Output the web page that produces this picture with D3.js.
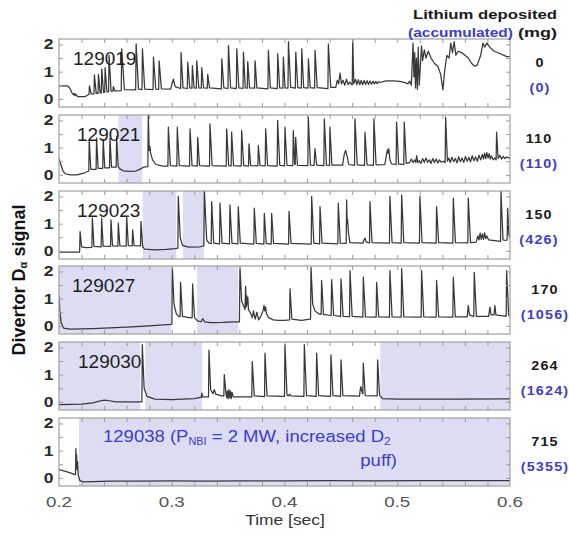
<!DOCTYPE html>
<html><head><meta charset="utf-8">
<script src="https://cdn.jsdelivr.net/npm/d3@7"></script>
<style>body{margin:0;background:#fff;} svg{display:block;font-family:"Liberation Sans",Arial,sans-serif;}</style>
</head><body><svg id="c" width="569" height="536"></svg>
<script>
// ---------------- data ----------------
const shots = ["129019","129021","129023","129027","129030"];
const lithium = ["0","110","150","170","264","715"];
const accumulated = ["(0)","(110)","(426)","(1056)","(1624)","(5355)"];
const xTickLabels = [0.2,0.3,0.4,0.5,0.6];
const xMinorTicks = [0.22,0.24,0.26,0.28,0.3,0.32,0.34,0.36,0.38,0.4,0.42,0.44,0.46,0.48,0.5,0.52,0.54,0.56,0.58];
const yTickLabels = [0,1,2];
const yMinorTicks = [0,0.5,1,1.5,2];

const trace129019 = [[0.2000,0.48],[0.2075,0.48],[0.2095,0.40],[0.2115,0.22],[0.2130,0.15],[0.2136,0.20],[0.2142,0.12],[0.2150,0.17],[0.2165,0.08],[0.2230,0.08],[0.2262,0.16],
[0.2266,0.16],[0.2270,0.48],[0.2285,0.18],[0.2310,0.18],[0.2314,0.88],[0.2330,0.20],[0.2346,0.20],[0.2350,0.90],[0.2365,0.22],
[0.2375,0.22],[0.2379,1.10],[0.2395,0.24],[0.2405,0.24],[0.2409,1.15],[0.2425,0.26],[0.2440,0.26],[0.2444,1.60],[0.2462,0.28],
[0.2478,0.28],[0.2482,0.45],[0.2495,0.29],[0.2552,0.30],[0.2556,1.84],[0.2580,0.34],[0.2680,0.33],[0.2684,2.02],[0.2705,0.36],
[0.2736,0.34],[0.2740,1.84],[0.2760,0.36],[0.2834,0.34],[0.2838,1.53],[0.2858,0.36],[0.2884,0.35],[0.2888,1.40],[0.2908,0.37],
[0.2990,0.36],[0.3002,0.55],[0.3014,0.72],[0.3030,0.45],[0.3079,0.38],[0.3083,1.70],[0.3100,0.40],[0.3138,0.38],[0.3142,1.35],[0.3160,0.40],
[0.3179,0.39],[0.3183,1.22],[0.3198,0.40],[0.3218,0.39],[0.3222,1.40],[0.3240,0.40],[0.3262,0.39],[0.3266,1.15],[0.3282,0.40],
[0.3315,0.39],[0.3319,0.90],[0.3335,0.40],[0.3440,0.37],[0.3444,1.47],[0.3462,0.40],[0.3499,0.38],[0.3503,1.96],[0.3522,0.40],
[0.3573,0.38],[0.3577,1.84],[0.3595,0.40],[0.3632,0.38],[0.3636,1.72],[0.3652,0.40],[0.3670,0.39],[0.3674,1.37],[0.3690,0.40],
[0.3735,0.39],[0.3739,1.40],[0.3755,0.40],[0.3853,0.37],[0.3857,1.78],[0.3875,0.40],[0.3936,0.38],[0.3940,1.66],[0.3957,0.40],
[0.3986,0.39],[0.3990,1.53],[0.4005,0.40],[0.4031,0.39],[0.4035,2.10],[0.4055,0.42],[0.4096,0.39],[0.4100,1.72],[0.4118,0.41],
[0.4149,0.39],[0.4153,1.84],[0.4170,0.41],[0.4208,0.39],[0.4212,1.47],[0.4228,0.41],[0.4267,0.39],[0.4271,1.78],[0.4290,0.41],
[0.4385,0.38],[0.4389,2.02],[0.4410,0.42],[0.4455,0.42],[0.4468,0.68],[0.4480,0.55],[0.4493,0.95],[0.4505,0.55],[0.4520,0.68],
[0.4535,0.50],[0.4550,0.72],[0.4565,0.52],[0.4580,0.62],[0.4595,0.52],[0.4601,0.52],[0.4605,2.20],[0.4615,0.55],
[0.4630,0.72],[0.4642,0.52],[0.4655,0.70],[0.4668,0.52],[0.4680,0.68],[0.4693,0.52],[0.4706,0.68],[0.4719,0.53],[0.4732,0.67],
[0.4745,0.53],[0.4758,0.66],[0.4771,0.54],[0.4784,0.65],[0.4797,0.55],[0.4810,0.64],[0.4823,0.56],[0.4836,0.63],[0.4850,0.60],
[0.4900,0.66],[0.4960,0.66],[0.5020,0.64],[0.5070,0.60],[0.5095,0.55],
[0.5110,0.65],[0.5125,0.50],[0.5140,2.05],[0.5148,0.80],[0.5155,1.70],[0.5162,0.40],[0.5170,1.50],[0.5178,0.35],[0.5186,1.90],
[0.5195,0.50],[0.5205,1.20],[0.5215,1.95],[0.5225,1.40],[0.5240,1.80],[0.5255,1.50],[0.5275,1.75],[0.5300,1.50],[0.5330,1.30],
[0.5360,1.20],[0.5385,0.90],[0.5405,0.33],[0.5420,1.00],[0.5440,1.60],[0.5460,1.50],[0.5475,2.05],[0.5490,1.70],[0.5505,2.10],
[0.5520,1.60],[0.5540,1.75],[0.5570,1.70],[0.5600,1.60],[0.5630,1.50],[0.5660,1.30],[0.5690,1.20],[0.5710,1.25],[0.5740,1.60],
[0.5760,2.05],[0.5775,1.90],[0.5795,2.05],[0.5820,1.90],[0.5860,1.75],[0.5920,1.65],[0.5970,1.55],[0.6000,1.55]];

const trace129021 = [[0.2000,0.60],[0.2015,0.40],[0.2035,0.15],[0.2055,0.04],[0.2100,0.00],[0.2160,0.00],[0.2220,0.06],[0.2262,0.14],
[0.2264,0.14],[0.2268,1.30],[0.2282,0.20],[0.2329,0.20],[0.2333,1.35],[0.2347,0.24],[0.2388,0.24],[0.2392,1.30],[0.2406,0.26],
[0.2448,0.26],[0.2452,1.35],[0.2466,0.28],[0.2507,0.28],[0.2511,1.40],[0.2525,0.30],
[0.2540,0.22],[0.2570,0.15],[0.2620,0.13],[0.2680,0.14],[0.2715,0.20],[0.2750,0.28],[0.2785,0.30],
[0.2788,0.30],[0.2792,2.25],[0.2800,0.90],[0.2806,1.05],[0.2812,0.80],[0.2830,0.55],[0.2860,0.38],[0.2920,0.32],
[0.2966,0.32],[0.2970,1.75],[0.2988,0.34],[0.3045,0.32],[0.3049,1.75],[0.3067,0.34],[0.3158,0.32],[0.3162,1.69],[0.3180,0.34],
[0.3226,0.32],[0.3230,1.38],[0.3246,0.34],[0.3335,0.32],[0.3339,1.87],[0.3358,0.34],[0.3483,0.32],[0.3487,1.69],[0.3505,0.34],
[0.3527,0.33],[0.3531,1.57],[0.3548,0.34],[0.3616,0.32],[0.3620,1.63],[0.3638,0.34],[0.3681,0.32],[0.3685,1.14],[0.3700,0.34],
[0.3764,0.33],[0.3768,1.08],[0.3783,0.34],[0.3829,0.33],[0.3833,1.69],[0.3850,0.34],[0.3935,0.32],[0.3939,2.00],[0.3958,0.35],
[0.4000,0.33],[0.4004,1.75],[0.4022,0.35],[0.4074,0.34],[0.4078,1.63],[0.4090,0.40],[0.4095,0.38],[0.4099,1.38],[0.4115,0.35],
[0.4207,0.34],[0.4211,2.12],[0.4230,0.36],[0.4262,0.35],[0.4270,0.96],[0.4285,0.36],[0.4349,0.34],[0.4353,2.06],[0.4372,0.36],
[0.4399,0.35],[0.4403,1.75],[0.4420,0.36],[0.4515,0.36],[0.4530,0.75],[0.4542,0.90],[0.4555,0.70],[0.4570,0.38],
[0.4621,0.35],[0.4625,2.06],[0.4645,0.37],[0.4710,0.35],[0.4714,1.57],[0.4732,0.37],[0.4789,0.35],[0.4793,2.06],[0.4812,0.37],
[0.4890,0.38],[0.4905,0.75],[0.4912,0.92],[0.4918,0.80],[0.4925,0.96],[0.4935,0.55],[0.4950,0.40],
[0.4990,0.38],[0.4994,1.94],[0.5012,0.40],[0.5058,0.38],[0.5062,1.94],[0.5080,0.42],
[0.5110,0.45],[0.5125,0.58],[0.5140,0.45],[0.5155,0.55],[0.5165,0.45],[0.5172,0.71],[0.5182,0.45],
[0.5195,0.52],[0.5210,0.42],[0.5225,0.60],[0.5240,0.45],[0.5255,0.62],[0.5270,0.46],[0.5285,0.55],[0.5300,0.42],[0.5315,0.60],
[0.5330,0.45],[0.5345,0.58],[0.5360,0.44],[0.5375,0.55],[0.5390,0.47],[0.5410,0.50],[0.5425,0.45],[0.5429,2.12],[0.5445,0.50],
[0.5458,0.62],[0.5470,0.45],[0.5485,0.65],[0.5500,0.48],[0.5515,0.60],[0.5530,0.44],[0.5545,0.66],[0.5560,0.48],[0.5575,0.62],
[0.5590,0.46],[0.5605,0.68],[0.5620,0.50],[0.5635,0.64],[0.5650,0.48],[0.5665,0.70],[0.5680,0.52],[0.5695,0.66],[0.5710,0.50],
[0.5725,0.72],[0.5740,0.55],[0.5755,0.75],[0.5765,0.58],[0.5775,0.80],[0.5785,0.60],[0.5795,0.82],[0.5805,0.62],[0.5815,0.78],
[0.5825,0.58],[0.5835,0.70],[0.5850,0.55],[0.5865,0.62],[0.5877,0.55],[0.5881,1.57],[0.5895,0.60],[0.5910,0.72],[0.5925,0.58],
[0.5940,0.68],[0.5955,0.60],[0.5970,0.66],[0.5985,0.62],[0.6000,0.62]];

const trace129023 = [[0.2000,-0.05],[0.2180,-0.05],[0.2183,-0.03],[0.2187,0.71],[0.2200,0.15],[0.2240,0.12],
[0.2292,0.13],[0.2296,1.20],[0.2310,0.16],[0.2374,0.15],[0.2378,1.20],[0.2392,0.17],[0.2457,0.16],[0.2461,1.14],[0.2475,0.18],
[0.2522,0.17],[0.2526,1.02],[0.2540,0.18],[0.2596,0.17],[0.2600,1.26],[0.2615,0.19],[0.2649,0.18],[0.2653,0.77],[0.2666,0.19],
[0.2723,0.18],[0.2727,1.08],[0.2742,0.15],[0.2760,0.06],[0.2850,0.04],[0.2950,0.05],[0.3030,0.08],[0.3054,0.10],
[0.3058,2.00],[0.3075,0.50],[0.3095,0.20],[0.3150,0.14],[0.3250,0.15],[0.3285,0.18],[0.3289,2.24],[0.3310,0.40],[0.3330,0.28],
[0.3350,0.27],[0.3354,1.81],[0.3372,0.28],[0.3424,0.26],[0.3428,1.75],[0.3446,0.28],[0.3512,0.26],[0.3516,1.69],[0.3534,0.28],
[0.3586,0.26],[0.3590,1.63],[0.3608,0.28],[0.3728,0.25],[0.3732,1.57],[0.3750,0.27],[0.3817,0.25],[0.3821,1.38],[0.3838,0.27],
[0.3882,0.25],[0.3886,1.38],[0.3903,0.27],[0.4036,0.25],[0.4040,1.45],[0.4058,0.27],[0.4237,0.25],[0.4241,2.00],[0.4260,0.28],
[0.4311,0.26],[0.4315,1.63],[0.4333,0.28],[0.4473,0.26],[0.4477,1.75],[0.4495,0.28],
[0.4547,0.27],[0.4551,1.87],[0.4556,1.00],[0.4560,1.15],[0.4566,0.70],[0.4580,0.30],
[0.4695,0.28],[0.4705,0.40],[0.4714,0.47],[0.4725,0.32],[0.4754,0.29],[0.4758,1.81],[0.4776,0.30],
[0.4931,0.28],[0.4935,2.00],[0.4954,0.30],[0.5035,0.28],[0.5039,2.06],[0.5058,0.30],[0.5197,0.28],[0.5201,2.00],[0.5220,0.30],
[0.5345,0.28],[0.5349,1.63],[0.5367,0.30],[0.5493,0.28],[0.5497,1.94],[0.5516,0.30],[0.5626,0.29],[0.5630,1.94],[0.5650,0.30],
[0.5700,0.32],[0.5715,0.55],[0.5725,0.40],[0.5735,0.65],[0.5745,0.42],[0.5755,0.62],[0.5765,0.42],[0.5775,0.66],[0.5785,0.45],
[0.5795,0.55],[0.5810,0.40],[0.5916,0.35],[0.5920,2.18],[0.5938,0.40],[0.5960,0.38],[0.5975,0.40],[0.5979,1.57],[0.5990,0.60],[0.6000,0.50]];

const trace129027 = [[0.2000,1.10],[0.2008,0.50],[0.2020,0.10],[0.2040,-0.08],[0.2100,-0.12],[0.2300,-0.10],[0.2600,-0.05],[0.2800,0.00],[0.2990,0.05],
[0.3001,0.06],[0.3005,2.15],[0.3020,0.80],[0.3040,0.45],[0.3060,0.35],[0.3074,0.34],[0.3078,1.60],[0.3095,0.35],
[0.3150,0.30],[0.3181,0.30],[0.3185,1.54],[0.3202,0.30],[0.3230,0.18],[0.3260,0.15],[0.3275,0.26],[0.3290,0.15],[0.3350,0.12],
[0.3450,0.13],[0.3550,0.15],[0.3600,0.15],[0.3605,2.15],[0.3620,0.90],[0.3640,0.70],[0.3650,0.60],[0.3655,1.45],[0.3662,0.70],
[0.3666,1.10],[0.3670,0.80],[0.3675,1.05],[0.3680,0.60],[0.3700,0.45],[0.3715,0.30],[0.3725,0.55],[0.3740,0.25],[0.3755,0.50],
[0.3770,0.22],[0.3790,0.35],[0.3810,0.55],[0.3818,0.75],[0.3825,0.55],[0.3832,0.70],[0.3840,0.45],[0.3860,0.30],[0.3900,0.22],
[0.3950,0.20],[0.4000,0.20],[0.4045,0.22],[0.4049,1.36],[0.4065,0.25],[0.4150,0.20],[0.4231,0.25],
[0.4235,2.15],[0.4250,0.80],[0.4270,0.55],[0.4300,0.45],[0.4325,0.42],[0.4329,1.67],[0.4346,0.42],[0.4414,0.38],[0.4418,1.70],[0.4436,0.38],
[0.4497,0.35],[0.4501,1.73],[0.4520,0.35],[0.4577,0.34],[0.4581,2.03],[0.4600,0.35],[0.4695,0.32],[0.4699,1.79],[0.4718,0.33],
[0.4813,0.32],[0.4817,1.60],[0.4835,0.33],[0.4931,0.32],[0.4935,2.03],[0.4954,0.33],[0.5035,0.32],[0.5039,2.10],[0.5058,0.33],
[0.5212,0.32],[0.5216,2.03],[0.5235,0.33],[0.5345,0.32],[0.5349,1.67],[0.5367,0.33],[0.5493,0.32],[0.5497,1.79],[0.5515,0.33],
[0.5620,0.33],[0.5630,0.75],[0.5640,0.40],[0.5679,0.34],[0.5683,1.97],[0.5702,0.35],
[0.5810,0.35],[0.5822,0.69],[0.5832,0.40],[0.5858,0.40],[0.5866,0.75],[0.5875,0.40],[0.5966,0.35],[0.5970,2.03],[0.5988,0.40],[0.6000,0.36]];

const trace129030 = [[0.2000,-0.10],[0.2200,-0.08],[0.2300,-0.04],[0.2350,0.02],[0.2400,0.06],[0.2450,0.04],[0.2500,0.00],[0.2600,0.00],[0.2735,0.00],
[0.2739,2.10],[0.2755,0.50],[0.2780,0.20],[0.2850,0.10],[0.3000,0.08],[0.3200,0.12],[0.3255,0.16],
[0.3262,0.16],[0.3266,0.32],[0.3275,0.18],[0.3326,0.18],[0.3330,1.90],[0.3345,0.45],[0.3365,0.30],[0.3378,0.45],[0.3390,0.28],[0.3440,0.22],
[0.3462,0.22],[0.3466,1.00],[0.3480,0.35],[0.3487,0.15],[0.3493,0.40],[0.3500,0.12],[0.3507,0.45],[0.3514,0.15],[0.3521,0.40],
[0.3528,0.12],[0.3535,0.35],[0.3546,0.18],[0.3600,0.18],[0.3710,0.18],[0.3714,1.48],[0.3732,0.22],[0.3823,0.19],[0.3827,1.79],[0.3845,0.22],
[0.4000,0.20],[0.4004,2.10],[0.4022,0.25],[0.4035,0.22],[0.4045,0.28],[0.4055,0.22],[0.4172,0.20],[0.4176,2.10],[0.4195,0.23],
[0.4281,0.20],[0.4285,1.79],[0.4303,0.23],[0.4408,0.20],[0.4412,1.73],[0.4430,0.23],[0.4497,0.20],[0.4501,1.54],[0.4518,0.23],
[0.4665,0.21],[0.4672,0.45],[0.4678,0.56],[0.4685,0.40],[0.4692,0.30],[0.4695,0.30],[0.4699,1.42],[0.4716,0.23],
[0.4822,0.22],[0.4826,1.54],[0.4843,0.25],[0.4870,0.12],[0.5000,0.10],[0.5500,0.10],[0.6000,0.11]];

const trace129038 = [[0.2000,0.30],[0.2050,0.25],[0.2100,0.18],[0.2140,0.12],[0.2146,0.12],[0.2150,1.07],[0.2153,0.40],[0.2156,0.85],
[0.2160,0.30],[0.2165,0.60],[0.2170,0.10],[0.2185,-0.10],[0.2220,-0.15],[0.2300,-0.14],[0.2450,-0.12],[0.2700,-0.12],[0.3000,-0.11],
[0.3300,-0.12],[0.3600,-0.11],[0.4000,-0.11],[0.4400,-0.10],[0.4800,-0.11],[0.5200,-0.10],[0.5600,-0.10],[0.6000,-0.10]];

const shade129019 = [];
const shade129021 = [[0.2527,0.2738]];
const shade129023 = [[0.2742,0.3040],[0.3100,0.3285]];
const shade129027 = [[0.2,0.2995],[0.3225,0.3590]];
const shade129030 = [[0.2,0.2720],[0.2765,0.3270],[0.4850,0.6]];
const shade129038 = [[0.2177,0.6]];

// ---------------- layout ----------------
const traces = [trace129019,trace129021,trace129023,trace129027,trace129030,trace129038];
const shades = [shade129019,shade129021,shade129023,shade129027,shade129030,shade129038];
const panelTop = [39,115,191,266,342,418];
const panelH = 68;
const valueX = [540,539,539,545,545,545];
const blue = "#3d3dcc";
const shadeFill = "#dcdcf3";

const svg = d3.select("#c");
const x = d3.scaleLinear().domain([0.2,0.6]).range([59,510]);

function stext(parent, px, py, str, size, sx, opts={}) {
  const t = parent.append("text")
    .attr("transform", `translate(${px},${py}) scale(${sx},1)`)
    .attr("font-size", size)
    .attr("text-anchor", opts.anchor || "start")
    .attr("font-weight", opts.weight || "normal")
    .attr("fill", opts.fill || "#222")
    .text(str);
  if (opts.ls) t.attr("letter-spacing", opts.ls);
  return t;
}

traces.forEach((tr, i) => {
  const top = panelTop[i];
  const y = d3.scaleLinear().domain([-0.3,2.2]).range([top+panelH, top]);
  const g = svg.append("g");
  g.append("clipPath").attr("id","clip"+i).append("rect")
    .attr("x", x(0.2)).attr("y", top).attr("width", x(0.6)-x(0.2)).attr("height", panelH);
  const gc = g.append("g").attr("clip-path", `url(#clip${i})`);
  gc.selectAll("rect").data(shades[i]).join("rect")
    .attr("x", d => x(d[0])).attr("width", d => x(d[1]) - x(d[0]))
    .attr("y", top).attr("height", panelH).attr("fill", shadeFill);

  const styleAxis = a => { a.select(".domain").remove(); a.selectAll("line").attr("stroke","#9a9a9a"); };
  g.append("g").attr("transform",`translate(0,${top})`)
    .call(d3.axisTop(x).tickValues(xMinorTicks).tickSize(-4).tickFormat("")).call(styleAxis);
  g.append("g").attr("transform",`translate(0,${top+panelH})`)
    .call(d3.axisBottom(x).tickValues(xMinorTicks).tickSize(-4).tickFormat("")).call(styleAxis);
  g.append("g").attr("transform",`translate(${x(0.2)},0)`)
    .call(d3.axisLeft(y).tickValues(yMinorTicks).tickSize(-4).tickFormat("")).call(styleAxis);
  g.append("g").attr("transform",`translate(${x(0.6)},0)`)
    .call(d3.axisRight(y).tickValues(yMinorTicks).tickSize(-4).tickFormat("")).call(styleAxis);

  gc.append("path").datum(tr)
    .attr("d", d3.line().x(d => x(d[0])).y(d => y(d[1])))
    .attr("fill","none").attr("stroke","#383838").attr("stroke-width",1.25).attr("stroke-linejoin","round");

  g.append("rect").attr("x", x(0.2)).attr("y", top).attr("width", x(0.6)-x(0.2)).attr("height", panelH)
    .attr("fill","none").attr("stroke","#a0a0a0").attr("stroke-width",1.2);

  yTickLabels.forEach(v => {
    stext(g, 48.5, y(v)+5, String(v), 14, 1.25, {anchor:"middle", weight:"bold", fill:"#2a2a2a"});
  });

  if (i < shots.length) {
    const lx = [73,77,77,72,78][i];
    stext(g, lx, top+25.5, shots[i], 19, 1.0, {fill:"#1e1e1e"});
  }

  stext(g, valueX[i], top+28, lithium[i], 12.5, 1.15, {anchor:"middle", weight:"bold", fill:"#1a1a1a", ls:1});
  stext(g, valueX[i], top+52.5, accumulated[i], 12.5, 1.15, {anchor:"middle", weight:"bold", fill:blue, ls:1});
});

const ann = svg.append("text")
  .attr("transform", `translate(103,442) scale(1.09,1)`)
  .attr("font-size", 17).attr("fill", blue);
ann.append("tspan").text("129038 (P");
ann.append("tspan").attr("font-size", 10).attr("dy", 3).text("NBI");
ann.append("tspan").attr("dy", -3).text(" = 2 MW, increased D");
ann.append("tspan").attr("font-size", 11).attr("dy", 3).text("2");
stext(svg, 397, 466, "puff)", 17, 1.09, {anchor:"end", fill:blue});

xTickLabels.forEach(v => {
  stext(svg, x(v), 507, String(v), 15, 1.25, {anchor:"middle", fill:"#555"});
});
stext(svg, 285, 525, "Time [sec]", 15, 1.16, {anchor:"middle", fill:"#333"});

const yl = svg.append("text")
  .attr("transform", "translate(25,280) rotate(-90)")
  .attr("text-anchor","middle").attr("font-size",18).attr("font-weight","bold").attr("fill","#111");
yl.append("tspan").text("Divertor D");
yl.append("tspan").attr("font-size",11).attr("dy",2).text("α");
yl.append("tspan").attr("dy",-2).text(" signal");

svg.append("text").attr("x",413).attr("y",18.5).attr("font-size",13.5).attr("font-weight","bold")
  .attr("fill","#1a1a1a").attr("textLength",144).attr("lengthAdjust","spacingAndGlyphs").text("Lithium  deposited");
svg.append("text").attr("x",408).attr("y",36.5).attr("font-size",13.5).attr("font-weight","bold")
  .attr("fill",blue).attr("textLength",105).attr("lengthAdjust","spacingAndGlyphs").text("(accumulated)");
svg.append("text").attr("x",518).attr("y",36.5).attr("font-size",13.5).attr("font-weight","bold")
  .attr("fill","#1a1a1a").attr("textLength",39).attr("lengthAdjust","spacingAndGlyphs").text("(mg)");
</script></body></html>
